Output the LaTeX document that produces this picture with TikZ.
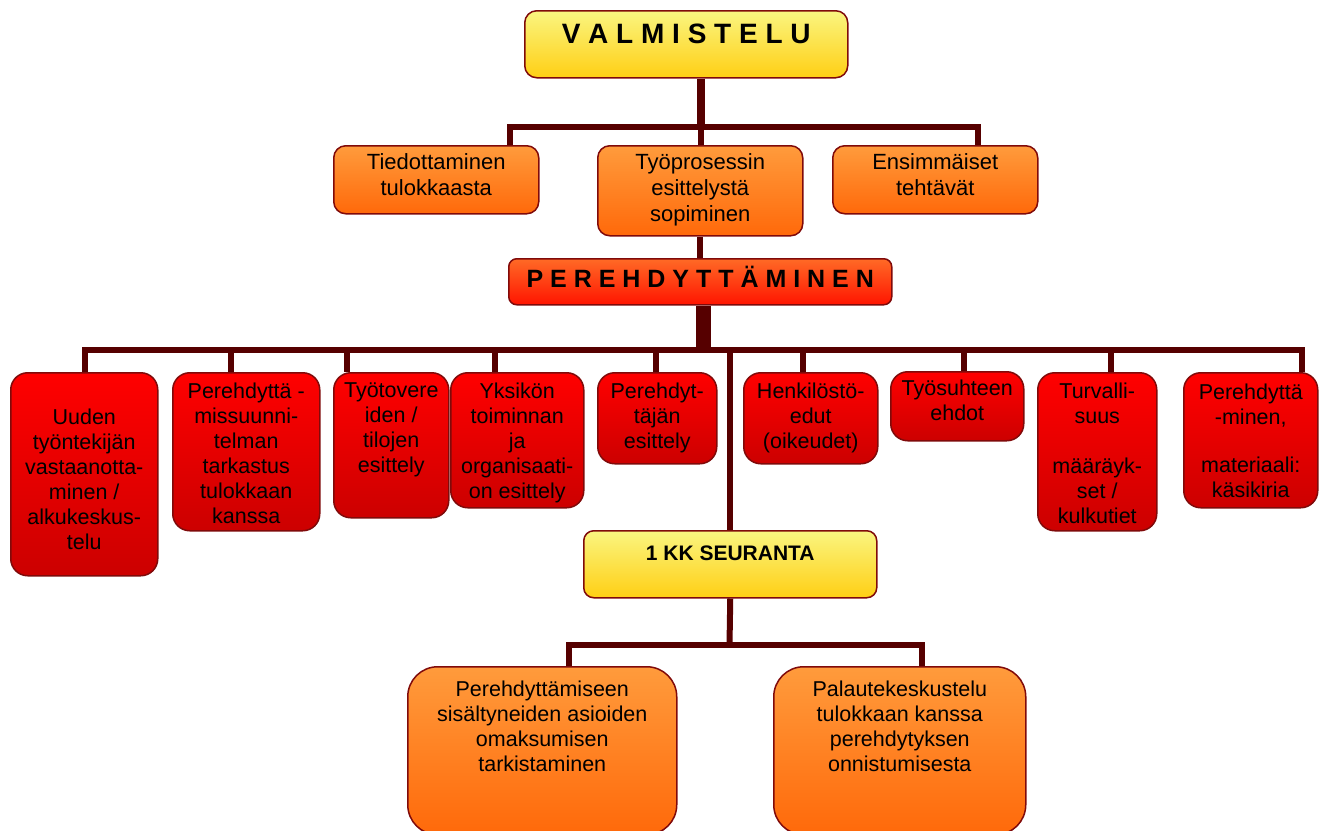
\documentclass[tikz,border=0pt]{standalone}
\usepackage{fontspec}
\setmainfont{Liberation Sans}
\usetikzlibrary{positioning}
\definecolor{linkred}{HTML}{560000}
\definecolor{edgered}{HTML}{800A0A}
\definecolor{ylwtop}{HTML}{FAF580}
\definecolor{ylwbot}{HTML}{FFCF14}
\definecolor{orgtop}{HTML}{FF9B3C}
\definecolor{orgbot}{HTML}{FF690A}
\definecolor{redtop}{HTML}{FF0000}
\definecolor{redbot}{HTML}{CC0000}
\definecolor{hottop}{HTML}{FF6A26}
\definecolor{hotbot}{HTML}{FF1400}

\begin{document}
\begin{tikzpicture}[
  x=1pt, y=1pt,
  box/.style={draw=edgered, line width=1.5pt, inner sep=0pt, anchor=north west},
  ylwbox/.style={box, rounded corners=12pt, top color=ylwtop, bottom color=ylwbot},
  orgbox/.style={box, rounded corners=12pt, top color=orgtop, bottom color=orgbot},
  bigbox/.style={box, rounded corners=30pt, top color=orgtop, bottom color=orgbot},
  hotbox/.style={box, rounded corners=8pt, top color=hottop, bottom color=hotbot},
  redbox/.style={box, rounded corners=17pt, top color=redtop, bottom color=redbot},
  txt/.style={inner sep=0pt, align=center, font=\fontsize{21.5}{25}\selectfont},
  toptxt/.style={txt, font=\fontsize{22}{26}\selectfont},
  headtxt/.style={inner sep=0pt, text depth=0pt},
  link/.style={linkred, line width=6pt},
  trunk/.style={linkred, line width=8pt},
  fat/.style={linkred, line width=15pt}
]
\useasboundingbox (0,0) rectangle (1325,-830);
\clip (0,0) rectangle (1325,-830);

% Preparation
\node[ylwbox, minimum width=323pt, minimum height=67pt] (valm) at (524,-10) {};
\node[headtxt, text height=20pt, font=\bfseries\fontsize{28}{30}\selectfont, below=13pt of valm.north] (valmt) {V A L M I S T E L U};

\node[orgbox, minimum width=205pt, minimum height=68pt] (tied) at (333,-145) {};
\node[orgbox, minimum width=205pt, minimum height=90pt] (tyo) at (597,-145) {};
\node[orgbox, minimum width=205pt, minimum height=68pt] (ensi) at (832,-145) {};
\node[toptxt, below=8pt of tied.north] (tiedt) {Tiedottaminen\\tulokkaasta};
\node[toptxt, below=8pt of tyo.north] (tyot) {Työprosessin\\esittelystä\\sopiminen};
\node[toptxt, below=8pt of ensi.north] (ensit) {Ensimmäiset\\tehtävät};

% Induction
\node[hotbox, minimum width=383pt, minimum height=46pt] (pere) at (508,-258) {};
\node[headtxt, text height=18pt, font=\bfseries\fontsize{25}{27}\selectfont, below=11pt of pere.north] (peret) {P E R E H D Y T T Ä M I N E N};

\node[redbox, minimum width=147pt, minimum height=203pt] (uud) at (10,-372) {};
\node[redbox, minimum width=147pt, minimum height=158pt] (suun) at (172,-372) {};
\node[redbox, minimum width=115pt, minimum height=145pt] (tove) at (333,-372) {};
\node[redbox, minimum width=133pt, minimum height=135pt] (yksi) at (450,-372) {};
\node[redbox, minimum width=119pt, minimum height=91pt] (ohja) at (597,-372) {};
\node[redbox, minimum width=134pt, minimum height=91pt] (henk) at (743,-372) {};
\node[redbox, minimum width=133pt, minimum height=69pt] (suht) at (890,-371) {};
\node[redbox, minimum width=119pt, minimum height=158pt] (turv) at (1037,-372) {};
\node[redbox, minimum width=134pt, minimum height=135pt] (mate) at (1183,-372) {};

\node[txt, below=37pt of uud.north] (uudt) {Uuden\\työntekijän\\vastaanotta-\\minen /\\alkukeskus-\\telu};
\node[txt, below=11pt of suun.north] (suunt) {Perehdyttä -\\missuunni-\\telman\\tarkastus\\tulokkaan\\kanssa};
\node[txt, below=11pt of tove.north] (tovet) {Työtovere\\iden /\\tilojen\\esittely};
\node[txt, below=11pt of yksi.north] (yksit) {Yksikön\\toiminnan\\ja\\organisaati-\\on esittely};
\node[txt, below=11pt of ohja.north] (ohjat) {Perehdyt-\\täjän\\esittely};
\node[txt, below=11pt of henk.north] (henkt) {Henkilöstö-\\edut\\(oikeudet)};
\node[txt, below=9pt of suht.north] (suhtt) {Työsuhteen\\ehdot};
\node[txt, below=11pt of turv.north] (turvt) {Turvalli-\\suus\\[25pt]määräyk-\\set /\\kulkutiet};
\node[txt, below=12pt of mate.north] (matet) {Perehdyttä\\-minen,\\[23pt]materiaali:\\käsikiria};

% Follow-up
\node[ylwbox, rounded corners=10pt, minimum width=293pt, minimum height=67pt] (seur) at (583,-530) {};
\node[headtxt, text height=15pt, font=\bfseries\fontsize{21}{23}\selectfont, below=15pt of seur.north] (seurt) {1 KK SEURANTA};

\node[bigbox, minimum width=269pt, minimum height=168pt] (omak) at (407,-666) {};
\node[bigbox, minimum width=252pt, minimum height=168pt] (pala) at (773,-666) {};
\node[txt, below=15pt of omak.north] (omakt) {Perehdyttämiseen\\sisältyneiden asioiden\\omaksumisen\\tarkistaminen};
\node[txt, below=15pt of pala.north] (palat) {Palautekeskustelu\\tulokkaan kanssa\\perehdytyksen\\onnistumisesta};

% Connectors
\coordinate (b1) at (701,-127);
\draw[trunk] (valm.south -| b1) -- (b1);
\draw[link] (tied.north -| 510,0) |- (b1) -| (ensi.north -| 978,0);
\draw[link] (b1) -- (tyo.north -| b1);
\draw[link] (tyo.south) -- (pere.north);

\coordinate (b2) at (703,-350);
\draw[link] (uud.north -| 85,0) |- (b2);
\draw[link] (suun.north -| 231,0) |- (b2);
\draw[link] (tove.north -| 347,0) |- (b2);
\draw[link] (yksi.north -| 495,0) |- (b2);
\draw[link] (ohja.north -| 656,0) |- (b2);
\draw[link] (henk.north -| 803,0) |- (b2);
\draw[link] (suht.north -| 964,0) |- (b2);
\draw[link] (turv.north -| 1111,0) |- (b2);
\draw[link] (mate.north -| 1302,0) |- (b2);
\draw[fat] (pere.south -| b2) -- ([yshift=-3pt]b2);
\draw[link] (seur.north |- b2) -- (seur.north);

\coordinate (b3) at (729.5,-645);
\draw[link] (seur.south) -- (b3);
\draw[link] (omak.north -| 569,0) |- (b3) -| (pala.north -| 922,0);

\end{tikzpicture}
\end{document}
